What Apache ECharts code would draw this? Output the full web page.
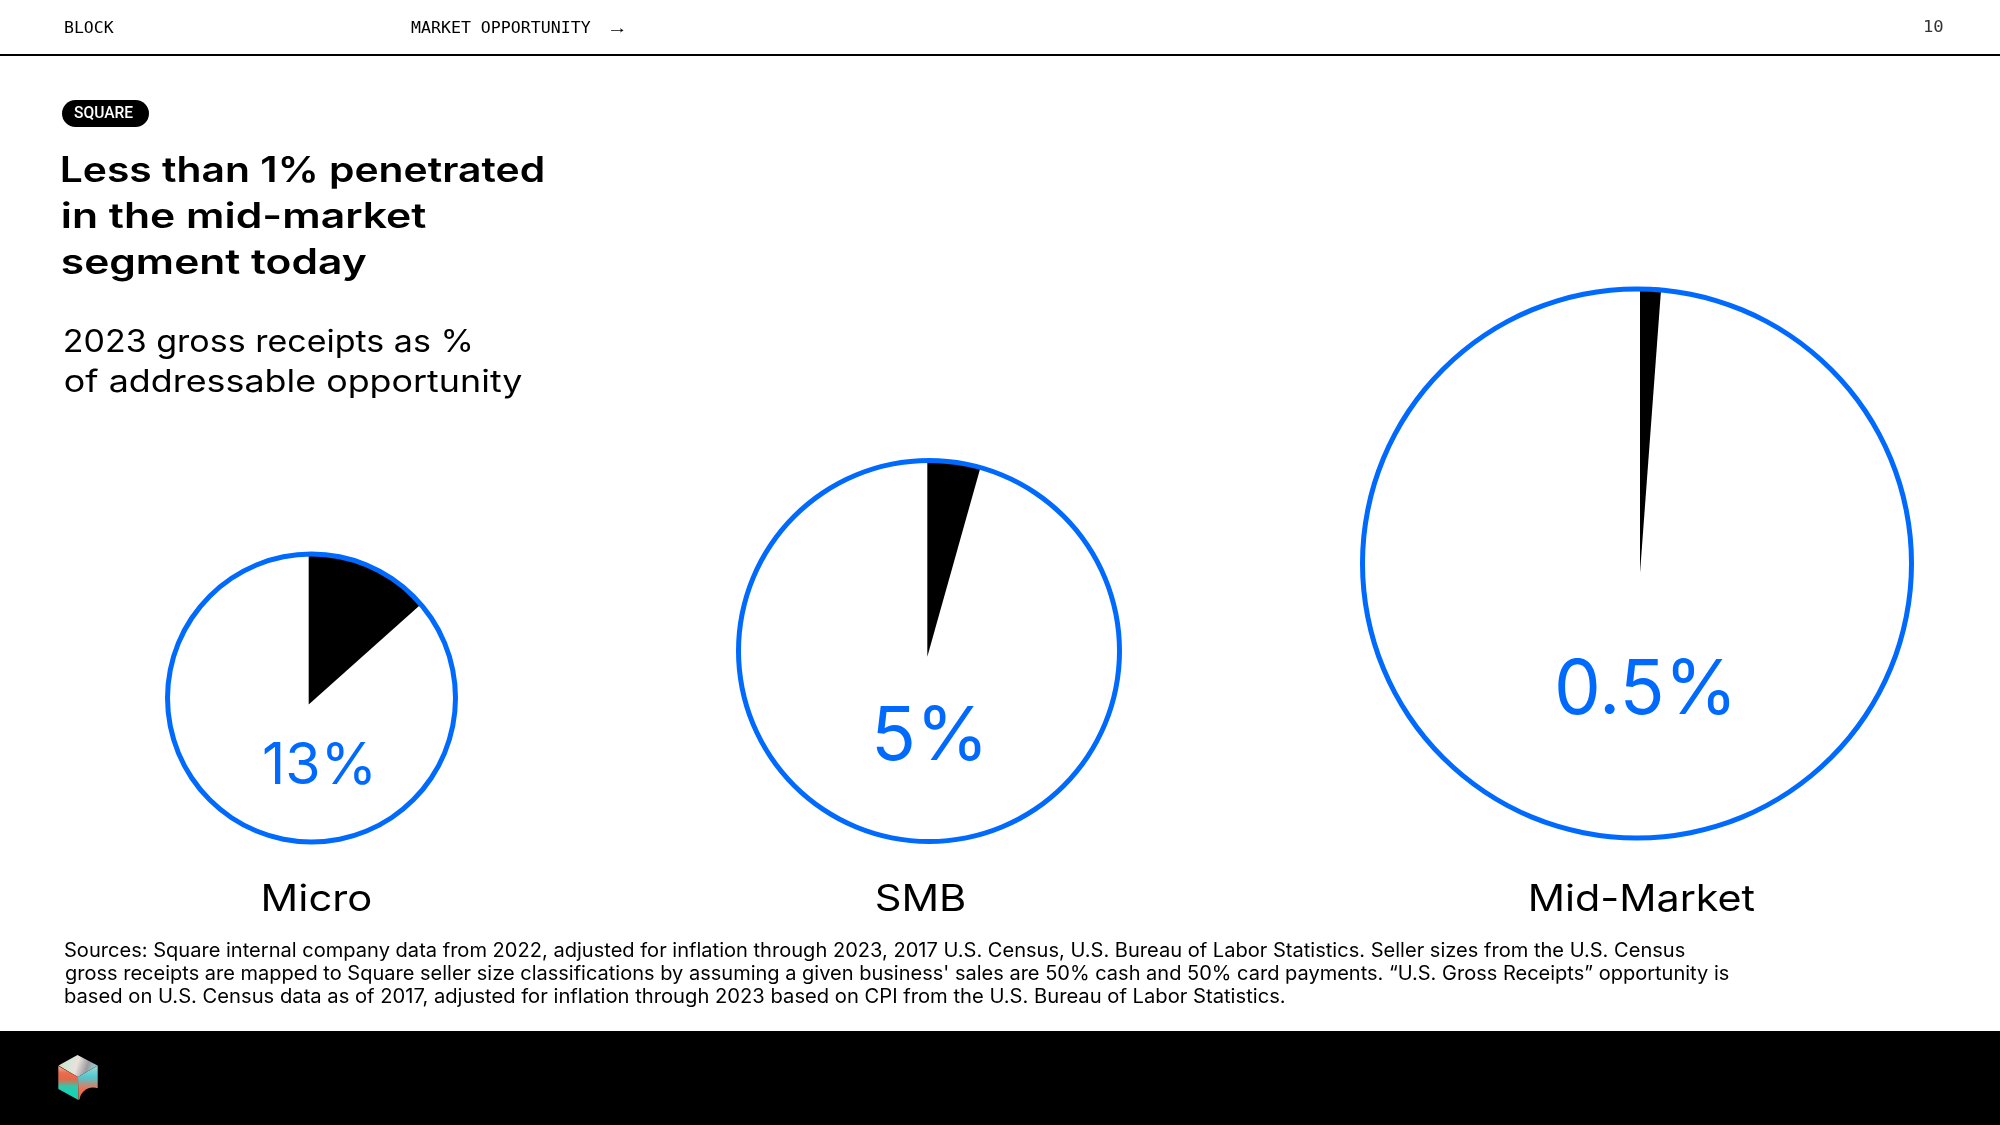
<!DOCTYPE html>
<html><head><meta charset="utf-8">
<style>html,body{margin:0;padding:0;background:#fff}#c{width:2000px;height:1125px}</style>
<script src="https://cdn.jsdelivr.net/npm/echarts@6/dist/echarts.min.js"></script>
</head><body><div id="c"></div>
<script>
const categories = ['Micro', 'SMB', 'Mid-Market'];
const valueLabels = ['13%', '5%', '0.5%'];
// wedge sizes as drawn in the picture (% of the circle)
const wedgeShares = [13.4, 4.36, 1.18];
const titleLines = ['Less than 1% penetrated', 'in the mid-market', 'segment today'];
const subtitleLines = ['2023 gross receipts as %', 'of addressable opportunity'];
const sourceLines = [
  'Sources: Square internal company data from 2022, adjusted for inflation through 2023, 2017 U.S. Census, U.S. Bureau of Labor Statistics. Seller sizes from the U.S. Census',
  'gross receipts are mapped to Square seller size classifications by assuming a given business\' sales are 50% cash and 50% card payments. “U.S. Gross Receipts” opportunity is',
  'based on U.S. Census data as of 2017, adjusted for inflation through 2023 based on CPI from the U.S. Bureau of Labor Statistics.'
];

const BLUE = '#006aff';
const SANS = 'Inter, sans-serif';
const MONO = '"DejaVu Sans Mono", monospace';
const rings = [
  {c: [311.5, 698], r: 146.5, wc: [308.7, 704.5], wr: 152},
  {c: [929, 651], r: 193, wc: [927.3, 656.7], wr: 197},
  {c: [1637, 563.5], r: 277, wc: [1640, 573], wr: 286}
];
const valuePos = [
  {x: 264, w: 107, b: 784, size: 58},
  {x: 876, w: 105, b: 760, size: 74},
  {x: 1558, w: 172, b: 714, size: 76}
];
const catPos = [{x: 264, w: 107}, {x: 877, w: 88}, {x: 1531, w: 224}];

const mctx = document.createElement('canvas').getContext('2d');
function txt(text, x, base, width, font, fill) {
  mctx.font = font; mctx.textBaseline = 'middle';
  const m = mctx.measureText(text);
  const real = m.actualBoundingBoxRight + m.actualBoundingBoxLeft;
  const h = mctx.measureText('H');
  const sx = width ? width / real : 1;
  return {
    type: 'text', silent: true, z: 20,
    x: x + m.actualBoundingBoxLeft * sx, y: base - h.actualBoundingBoxDescent,
    scaleX: sx,
    style: {text, font, fill: fill || '#000', textAlign: 'left', textVerticalAlign: 'middle', verticalAlign: 'middle'}
  };
}

const series = [];
rings.forEach((g, i) => {
  series.push({
    type: 'pie', silent: true, animation: false, z: 2, center: g.wc, radius: [0, g.wr],
    startAngle: 90, label: {show: false}, labelLine: {show: false},
    data: [
      {name: categories[i], value: wedgeShares[i], itemStyle: {color: '#000'}},
      {name: 'rest', value: 100 - wedgeShares[i], itemStyle: {color: 'rgba(0,0,0,0)'}}
    ]
  });
  // white mask outside the ring hides the wedge's overshoot
  series.push({
    type: 'pie', silent: true, animation: false, z: 3, center: g.c, radius: [g.r, g.r + 14],
    startAngle: 90, label: {show: false}, labelLine: {show: false},
    data: [{name: 'mask', value: 100, itemStyle: {color: '#fff'}}]
  });
  series.push({
    type: 'pie', silent: true, animation: false, z: 4, center: g.c, radius: [g.r - 5, g.r],
    startAngle: 90, label: {show: false}, labelLine: {show: false},
    data: [{name: 'outline', value: 100, itemStyle: {color: BLUE}}]
  });
});

const grad = (x, y, x2, y2, stops) => ({type: 'linear', x, y, x2, y2, global: false,
  colorStops: stops.map((c, i) => ({offset: stops.length > 1 ? i / (stops.length - 1) : 0, color: c}))});
const logo = [
  {type: 'polygon', z: 20, silent: true, shape: {points: [[58.5, 1065.5], [77.5, 1055], [97.5, 1065.5], [78, 1077]]},
    style: {fill: grad(0, 0, 1, 0.6, ['#f0c9ae', '#cfe7d4', '#e9e2dc', '#9d9aa0', '#8fe0dc'])}},
  {type: 'polygon', z: 20, silent: true, shape: {points: [[58.3, 1066], [78, 1077], [78.5, 1100], [58.3, 1089]]},
    style: {fill: grad(0, 0, 0, 1, ['#f0b79c', '#ea6d4b', '#e2684b', '#36c5ab', '#12d4b8', '#33c8a8'])}},
  {type: 'polygon', z: 20, silent: true, shape: {points: [[78, 1077], [97.7, 1065.5], [97.7, 1088], [78.5, 1100]]},
    style: {fill: grad(0, 0, 0, 1, ['#a7d8d0', '#4fc9d0', '#e9765a', '#e0654a'])}},
  {type: 'circle', z: 21, silent: true, shape: {cx: 93, cy: 1101, r: 13.5}, style: {fill: '#000'}}
];

const graphic = [
  {type: 'rect', z: 0, silent: true, shape: {x: 0, y: 54, width: 2000, height: 2}, style: {fill: '#000'}},
  {type: 'rect', z: 0, silent: true, shape: {x: 0, y: 1031, width: 2000, height: 94}, style: {fill: '#000'}},
  {type: 'rect', z: 10, silent: true, shape: {x: 62, y: 100, width: 87, height: 27, r: 13.5}, style: {fill: '#000'}},
  txt('BLOCK', 65, 33, 49, '16px ' + MONO),
  txt('MARKET OPPORTUNITY', 411, 33, 180, '16px ' + MONO),
  txt('→', 611, 33, 13, '16px "Liberation Mono", monospace'),
  txt('10', 1924, 31.5, 19, '16px ' + MONO, '#333'),
  txt('SQUARE', 74, 118, 59, '500 16px Roboto, sans-serif', '#fff'),
  ...titleLines.map((t, i) => txt(t, 62, 182 + 46 * i, [481, 364, 304][i], '600 35px ' + SANS)),
  ...subtitleLines.map((t, i) => txt(t, 65, 352 + 39.5 * i, [405, 457][i], '400 31px ' + SANS)),
  ...valueLabels.map((t, i) => txt(t, valuePos[i].x, valuePos[i].b, valuePos[i].w, '400 ' + valuePos[i].size + 'px ' + SANS, BLUE)),
  ...categories.map((t, i) => txt(t, catPos[i].x, 911, catPos[i].w, '400 37px ' + SANS)),
  ...sourceLines.map((t, i) => txt(t, 65, 957 + 23 * i, [1620, 1664, 1220][i], '400 19.5px ' + SANS)),
  ...logo
];

const chart = echarts.init(document.getElementById('c'), null, {renderer: 'canvas'});
chart.setOption({animation: false, backgroundColor: '#fff', tooltip: {show: false}, legend: {show: false}, series, graphic});
</script></body></html>
